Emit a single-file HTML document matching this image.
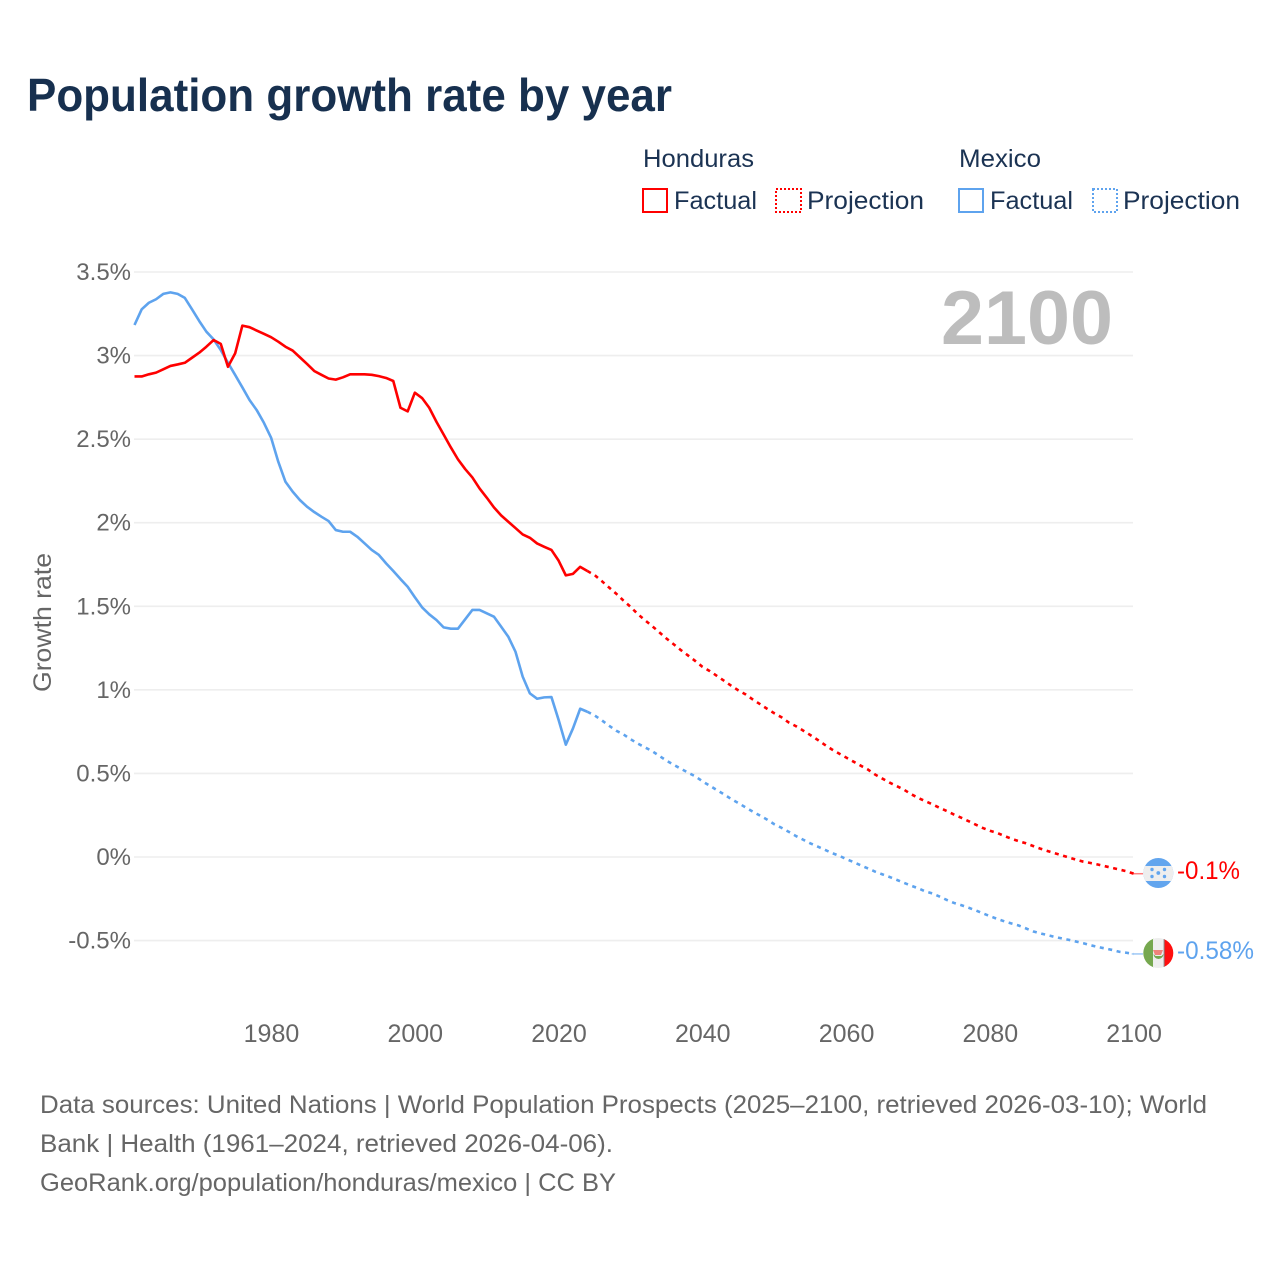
<!DOCTYPE html>
<html lang="en">
<head>
<meta charset="utf-8">
<title>Population growth rate by year</title>
<style>
html,body{margin:0;padding:0;background:#fff;}
svg{display:block;}
text{font-family:"Liberation Sans",sans-serif;}
.tick{fill:#666;}
.leg{fill:#1b3353;font-size:25px;}
.foot{fill:#666;font-size:25px;}
</style>
</head>
<body>
<svg id="chart" width="1280" height="1280" viewBox="0 0 1280 1280" xmlns="http://www.w3.org/2000/svg">
  <rect width="1280" height="1280" fill="#fff"/>
  <text x="27" y="111" font-size="46" font-weight="700" fill="#17304f" textLength="645" lengthAdjust="spacingAndGlyphs">Population growth rate by year</text>

  <g>
    <text class="leg" x="643" y="167" textLength="111" lengthAdjust="spacingAndGlyphs">Honduras</text>
    <rect x="643" y="189" width="24" height="23" fill="none" stroke="#ff0000" stroke-width="2"/>
    <text class="leg" x="674" y="209" textLength="83" lengthAdjust="spacingAndGlyphs">Factual</text>
    <rect x="776" y="189" width="25" height="23" fill="none" stroke="#ff0000" stroke-width="2" stroke-dasharray="2 2"/>
    <text class="leg" x="807" y="209" textLength="117" lengthAdjust="spacingAndGlyphs">Projection</text>
    <text class="leg" x="959" y="167" textLength="82" lengthAdjust="spacingAndGlyphs">Mexico</text>
    <rect x="959" y="189" width="24" height="23" fill="none" stroke="#5ea3ee" stroke-width="2"/>
    <text class="leg" x="990" y="209" textLength="83" lengthAdjust="spacingAndGlyphs">Factual</text>
    <rect x="1093" y="189" width="24" height="23" fill="none" stroke="#5ea3ee" stroke-width="2" stroke-dasharray="2 2"/>
    <text class="leg" x="1123" y="209" textLength="117" lengthAdjust="spacingAndGlyphs">Projection</text>
  </g>

  <g id="grid"></g>
  <g id="yticks"></g>
  <g id="xticks"></g>

  <text transform="translate(51,622.5) rotate(-90)" text-anchor="middle" font-size="25" fill="#666" textLength="139" lengthAdjust="spacingAndGlyphs">Growth rate</text>
  <text x="941" y="344" font-size="76" font-weight="700" fill="#bdbdbd" textLength="172" lengthAdjust="spacingAndGlyphs">2100</text>

  <g id="series"></g>

  <defs>
    <clipPath id="clip-hn"><circle cx="1158.3" cy="873" r="15"/></clipPath>
    <clipPath id="clip-mx"><circle cx="1158.3" cy="953" r="15"/></clipPath>
  </defs>
  <g clip-path="url(#clip-hn)">
    <rect x="1143" y="858" width="31" height="30" fill="#62a5ee"/>
    <rect x="1143" y="866" width="31" height="15" fill="#eeeeee"/>
    <circle cx="1152" cy="869.5" r="1.7" fill="#62a5ee"/>
    <circle cx="1164.5" cy="869.5" r="1.7" fill="#62a5ee"/>
    <circle cx="1158.3" cy="873" r="1.9" fill="#62a5ee"/>
    <circle cx="1152" cy="876.5" r="1.7" fill="#62a5ee"/>
    <circle cx="1164.5" cy="876.5" r="1.7" fill="#62a5ee"/>
  </g>
  <g clip-path="url(#clip-mx)">
    <rect x="1143" y="938" width="11" height="30" fill="#76a84f"/>
    <rect x="1153" y="938" width="11" height="30" fill="#eeeeee"/>
    <rect x="1164" y="938" width="10" height="30" fill="#ff0f0f"/>
    <rect x="1163.6" y="938" width="1" height="30" fill="#888"/>
    <path d="M1153.5 954 a5 5 0 0 0 10 0 l-2 2 h-6 z" fill="#76a84f"/>
    <path d="M1153 950 h10 l-2 5 h-6 z" fill="#f0837a"/>
  </g>
  <text x="1177" y="879" font-size="25" fill="#ff0000" textLength="63" lengthAdjust="spacingAndGlyphs">-0.1%</text>
  <text x="1177" y="959" font-size="25" fill="#5ea3ee" textLength="77" lengthAdjust="spacingAndGlyphs">-0.58%</text>

  <g>
    <text class="foot" x="40" y="1113" textLength="1167" lengthAdjust="spacingAndGlyphs">Data sources: United Nations | World Population Prospects (2025–2100, retrieved 2026-03-10); World</text>
    <text class="foot" x="40" y="1152" textLength="573" lengthAdjust="spacingAndGlyphs">Bank | Health (1961–2024, retrieved 2026-04-06).</text>
    <text class="foot" x="40" y="1191" textLength="576" lengthAdjust="spacingAndGlyphs">GeoRank.org/population/honduras/mexico | CC BY</text>
  </g>
</svg>
<script>
const yTickValues = [3.5, 3, 2.5, 2, 1.5, 1, 0.5, 0, -0.5];
const yTickLabels = ["3.5%", "3%", "2.5%", "2%", "1.5%", "1%", "0.5%", "0%", "-0.5%"];
const xTickValues = [1980, 2000, 2020, 2040, 2060, 2080, 2100];
const xTickLabels = ["1980", "2000", "2020", "2040", "2060", "2080", "2100"];
const factualStartYear = 1961;
const projectionStartYear = 2025;
const hondurasFactual = [2.875,2.875,2.888,2.898,2.918,2.938,2.947,2.957,2.987,3.017,3.053,3.093,3.07,2.933,3.013,3.179,3.17,3.15,3.13,3.11,3.083,3.053,3.03,2.99,2.95,2.908,2.885,2.863,2.856,2.87,2.888,2.888,2.888,2.885,2.877,2.866,2.848,2.688,2.666,2.778,2.746,2.688,2.604,2.528,2.451,2.379,2.321,2.271,2.205,2.15,2.092,2.044,2.006,1.968,1.93,1.91,1.876,1.856,1.837,1.773,1.685,1.694,1.736,1.711];
const mexicoFactual = [3.183,3.277,3.316,3.337,3.369,3.378,3.369,3.345,3.277,3.207,3.143,3.097,3.033,2.957,2.884,2.81,2.734,2.674,2.598,2.509,2.365,2.245,2.186,2.136,2.096,2.064,2.036,2.01,1.956,1.946,1.946,1.916,1.877,1.837,1.807,1.757,1.711,1.663,1.617,1.554,1.494,1.452,1.418,1.374,1.366,1.366,1.422,1.478,1.478,1.458,1.438,1.378,1.318,1.228,1.079,0.979,0.947,0.955,0.957,0.82,0.672,0.77,0.887,0.869];
const hondurasProjection = [1.687,1.651,1.613,1.576,1.535,1.497,1.454,1.417,1.382,1.345,1.307,1.273,1.238,1.206,1.173,1.138,1.113,1.084,1.055,1.025,0.997,0.973,0.943,0.915,0.887,0.860,0.836,0.805,0.783,0.757,0.730,0.702,0.672,0.644,0.619,0.595,0.571,0.547,0.524,0.494,0.470,0.446,0.425,0.404,0.377,0.354,0.334,0.315,0.294,0.275,0.254,0.235,0.215,0.194,0.174,0.157,0.144,0.126,0.109,0.095,0.082,0.066,0.050,0.036,0.023,0.010,-0.003,-0.016,-0.028,-0.036,-0.045,-0.055,-0.065,-0.075,-0.085,-0.10];
const mexicoProjection = [0.847,0.818,0.786,0.756,0.734,0.705,0.679,0.656,0.634,0.605,0.577,0.552,0.528,0.505,0.483,0.453,0.427,0.401,0.375,0.347,0.323,0.297,0.272,0.248,0.224,0.196,0.175,0.151,0.126,0.104,0.082,0.063,0.044,0.024,0.008,-0.012,-0.030,-0.049,-0.068,-0.087,-0.103,-0.119,-0.136,-0.154,-0.171,-0.187,-0.206,-0.218,-0.237,-0.257,-0.275,-0.288,-0.303,-0.319,-0.337,-0.354,-0.370,-0.385,-0.398,-0.410,-0.427,-0.445,-0.457,-0.467,-0.478,-0.487,-0.496,-0.506,-0.516,-0.528,-0.538,-0.547,-0.556,-0.567,-0.573,-0.58];

const NS = "http://www.w3.org/2000/svg";
const RED = "#ff0000";
const BLUE = "#5ea3ee";
function xScale(year) { return 134.5 + (year - 1961) * (1133.7 - 134.5) / (2100 - 1961); }
function yScale(v) { return 857 - v * 167.14; }

const gridG = document.getElementById("grid");
const yG = document.getElementById("yticks");
yTickValues.forEach(function (v, i) {
  const line = document.createElementNS(NS, "line");
  
  
  line.setAttribute("x1", 134);
  line.setAttribute("x2", 1133);
  line.setAttribute("y1", yScale(v));
  line.setAttribute("y2", yScale(v));
  line.setAttribute("stroke", "#eeeeee");
  line.setAttribute("stroke-width", "1.6");
  gridG.appendChild(line);
  const t = document.createElementNS(NS, "text");
  
  
  t.setAttribute("class", "tick");
  t.setAttribute("x", 131);
  t.setAttribute("y", yScale(v) + 8);
  t.setAttribute("text-anchor", "end");
  t.setAttribute("font-size", "24");
  t.textContent = yTickLabels[i];
  yG.appendChild(t);
});

const xG = document.getElementById("xticks");
xTickValues.forEach(function (year, i) {
  const t = document.createElementNS(NS, "text");
  
  
  t.setAttribute("class", "tick");
  t.setAttribute("x", xScale(year) + 0.4);
  t.setAttribute("y", 1042);
  t.setAttribute("text-anchor", "middle");
  t.setAttribute("font-size", "25");
  t.textContent = xTickLabels[i];
  xG.appendChild(t);
});

function pathFrom(points) {
  return points.map(function (p, i) {
    return (i ? "L" : "M") + xScale(p[0]).toFixed(2) + " " + yScale(p[1]).toFixed(2);
  }).join(" ");
}
function toPoints(startYear, values) {
  return values.map(function (v, i) { return [startYear + i, v]; });
}
const seriesG = document.getElementById("series");

const hnProjPts = [[projectionStartYear - 1, hondurasFactual[hondurasFactual.length - 1]]].concat(toPoints(projectionStartYear, hondurasProjection));
const mxProjPts = [[projectionStartYear - 1, mexicoFactual[mexicoFactual.length - 1]]].concat(toPoints(projectionStartYear, mexicoProjection));

const mxProjLine = document.createElementNS(NS, "path");


mxProjLine.setAttribute("d", pathFrom(mxProjPts));
mxProjLine.setAttribute("fill", "none");
mxProjLine.setAttribute("stroke", BLUE);
mxProjLine.setAttribute("stroke-width", "2.6");
mxProjLine.setAttribute("stroke-dasharray", "4 4.6");
seriesG.appendChild(mxProjLine);

const mxLine = document.createElementNS(NS, "path");


mxLine.setAttribute("d", pathFrom(toPoints(factualStartYear, mexicoFactual)));
mxLine.setAttribute("fill", "none");
mxLine.setAttribute("stroke", BLUE);
mxLine.setAttribute("stroke-width", "2.6");
mxLine.setAttribute("stroke-linejoin", "round");
seriesG.appendChild(mxLine);

const hnProjLine = document.createElementNS(NS, "path");


hnProjLine.setAttribute("d", pathFrom(hnProjPts));
hnProjLine.setAttribute("fill", "none");
hnProjLine.setAttribute("stroke", RED);
hnProjLine.setAttribute("stroke-width", "2.6");
hnProjLine.setAttribute("stroke-dasharray", "4 4.6");
seriesG.appendChild(hnProjLine);

const hnLine = document.createElementNS(NS, "path");


hnLine.setAttribute("d", pathFrom(toPoints(factualStartYear, hondurasFactual)));
hnLine.setAttribute("fill", "none");
hnLine.setAttribute("stroke", RED);
hnLine.setAttribute("stroke-width", "2.6");
hnLine.setAttribute("stroke-linejoin", "round");
seriesG.appendChild(hnLine);

const hnConn = document.createElementNS(NS, "line");


hnConn.setAttribute("x1", xScale(2100) - 2);
hnConn.setAttribute("x2", 1143);
hnConn.setAttribute("y1", yScale(hondurasProjection[hondurasProjection.length - 1]));
hnConn.setAttribute("y2", yScale(hondurasProjection[hondurasProjection.length - 1]));
hnConn.setAttribute("stroke", RED);
hnConn.setAttribute("stroke-opacity", "0.5");
hnConn.setAttribute("stroke-width", "1.5");
seriesG.appendChild(hnConn);

const mxConn = document.createElementNS(NS, "line");


mxConn.setAttribute("x1", xScale(2100) - 2);
mxConn.setAttribute("x2", 1143);
mxConn.setAttribute("y1", yScale(mexicoProjection[mexicoProjection.length - 1]));
mxConn.setAttribute("y2", yScale(mexicoProjection[mexicoProjection.length - 1]));
mxConn.setAttribute("stroke", BLUE);
mxConn.setAttribute("stroke-opacity", "0.6");
mxConn.setAttribute("stroke-width", "1.5");
seriesG.appendChild(mxConn);
</script>
</body>
</html>
